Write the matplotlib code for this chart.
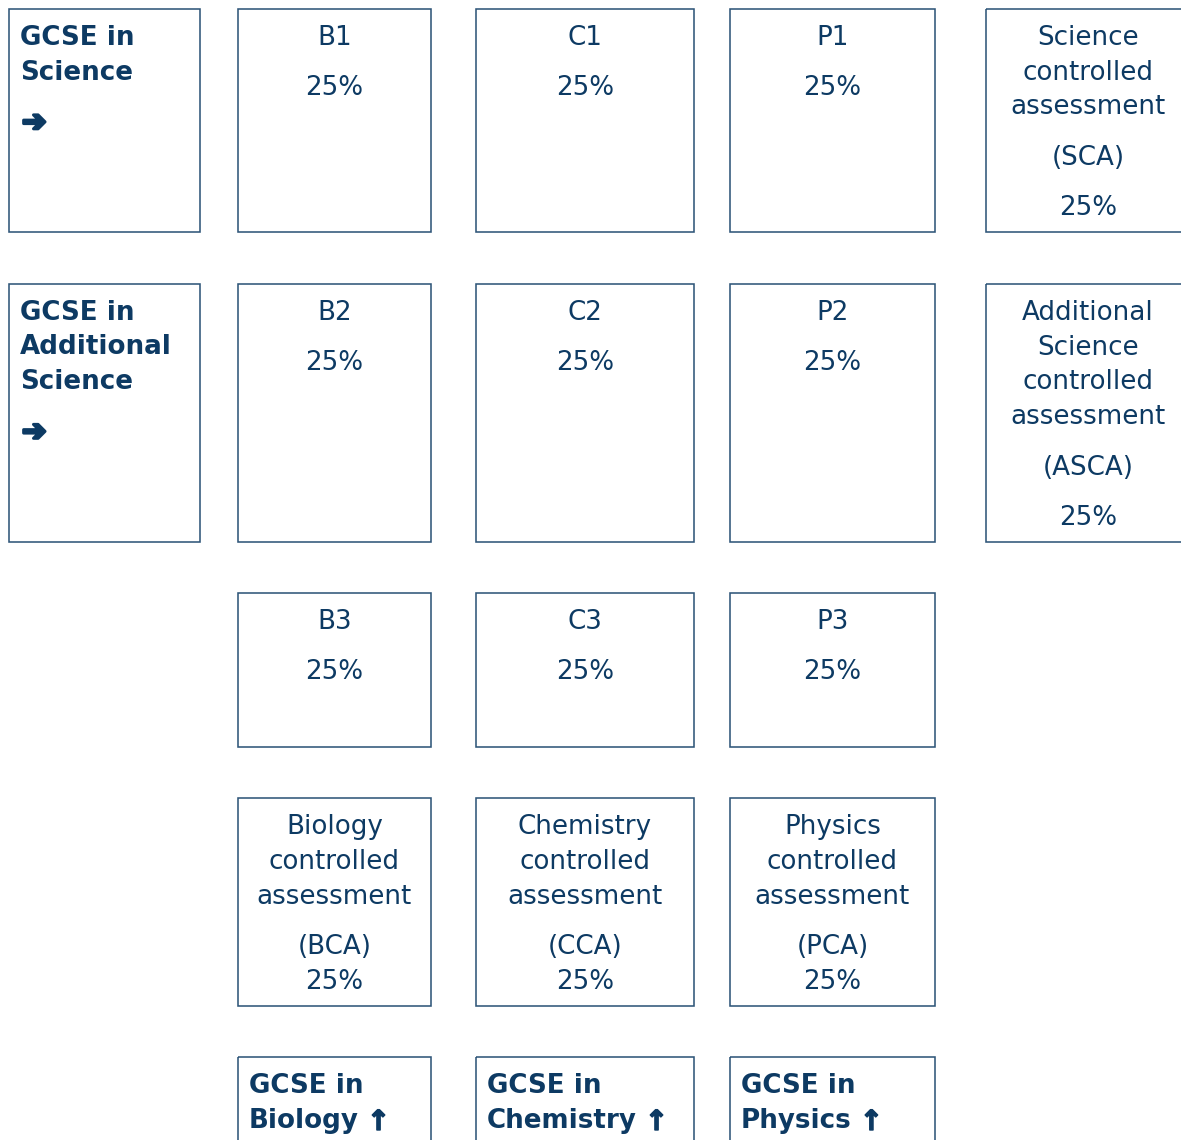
import matplotlib.pyplot as plt
import matplotlib.patheffects as pe
from matplotlib.patches import Rectangle

plt.rcParams['font.family'] = ['DejaVu Sans']

# content
units = [["B1", "C1", "P1"], ["B2", "C2", "P2"], ["B3", "C3", "P3"]]
unit_weight = [25, 25, 25]
quals = [["GCSE in", "Science"], ["GCSE in", "Additional", "Science"]]
course_ca = [["Science", "controlled", "assessment"],
             ["Additional", "Science", "controlled", "assessment"]]
course_ca_code = ["SCA", "ASCA"]
subjects = ["Biology", "Chemistry", "Physics"]
subject_ca_code = ["BCA", "CCA", "PCA"]
ca_weight = 25

TXT = '#0d3a63'
EDGE = '#2f5679'
FS = 18.8

fig = plt.figure(figsize=(11.81, 11.40), dpi=100)
ax = fig.add_axes([0, 0, 1, 1])
ax.set_xlim(0, 1181)
ax.set_ylim(1140, 0)
ax.axis('off')

cols = [(9, 200), (238, 431), (476, 694), (730, 935), (986, 1190)]
rows = [(9, 232), (284, 542), (593, 747), (798, 1006), (1057, 1160)]
heavy = [pe.Stroke(linewidth=2.2, foreground=TXT), pe.Normal()]
upstroke = [pe.Stroke(linewidth=1.0, foreground=TXT), pe.Normal()]


def box(c, r):
    x0, x1 = cols[c]
    y0, y1 = rows[r]
    ax.add_patch(Rectangle((x0, y0), x1 - x0, y1 - y0, fill=False,
                           edgecolor=EDGE, lw=1.15))


def put(x, y, s, ha='center', bold=False):
    return ax.text(x, y, s, ha=ha, va='center', fontsize=FS, color=TXT,
                   fontweight='bold' if bold else 'normal')


def mid(c):
    return (cols[c][0] + cols[c][1]) / 2


# first two rows: qualification, units, course controlled assessment
for r in range(2):
    box(0, r)
    y = rows[r][0] + 29
    for line in quals[r]:
        put(20, y, line, ha='left', bold=True)
        y += 34.5
    a = put(22, y + 16, '\u2794', ha='left', bold=True)
    a.set_fontsize(21)
    a.set_path_effects(heavy)

    for c in range(3):
        box(c + 1, r)
        put(mid(c + 1), rows[r][0] + 29, units[r][c])
        put(mid(c + 1), rows[r][0] + 79, f"{unit_weight[c]}%")

    box(4, r)
    y = rows[r][0] + 29
    for line in course_ca[r]:
        put(mid(4), y, line)
        y += 34.7
    put(mid(4), y + 16, f"({course_ca_code[r]})")
    put(mid(4), y + 66, f"{ca_weight}%")

# third row of units
for c in range(3):
    box(c + 1, 2)
    put(mid(c + 1), rows[2][0] + 29, units[2][c])
    put(mid(c + 1), rows[2][0] + 79, f"{unit_weight[c]}%")

# subject controlled assessments
for c in range(3):
    box(c + 1, 3)
    y0 = rows[3][0] + 29
    put(mid(c + 1), y0, subjects[c])
    put(mid(c + 1), y0 + 35, "controlled")
    put(mid(c + 1), y0 + 70, "assessment")
    put(mid(c + 1), y0 + 120, f"({subject_ca_code[c]})")
    put(mid(c + 1), y0 + 155, f"{ca_weight}%")

# separate science GCSEs
for c in range(3):
    box(c + 1, 4)
    x = cols[c + 1][0] + 11
    put(x, rows[4][0] + 29, "GCSE in", ha='left', bold=True)
    t = put(x, rows[4][0] + 64, subjects[c], ha='left', bold=True)
    fig.canvas.draw()
    bb = t.get_window_extent().transformed(ax.transData.inverted())
    u = put(bb.x1 + 8, rows[4][0] + 65, '\u2191', ha='left', bold=True)
    u.set_fontsize(20)
    u.set_path_effects(upstroke)

fig.savefig('out.png', dpi=100)
